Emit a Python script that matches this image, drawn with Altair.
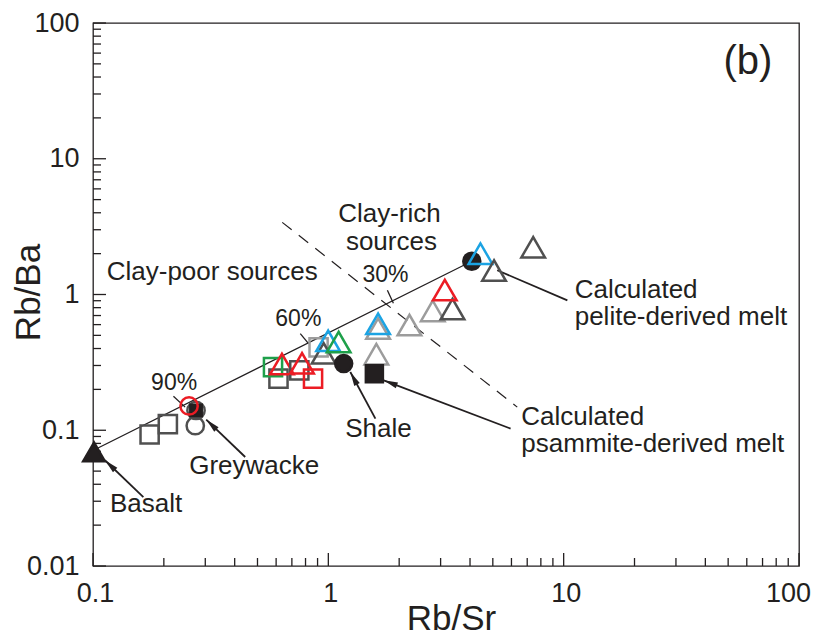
import math
import altair as alt
import pandas as pd

W, H = 706, 543
FONT = "Liberation Sans"
INK = "#231f20"

# ---------------- data ----------------
# sample points (Rb/Sr, Rb/Ba), symbol and colour group, in drawing order
pt_x = [0.274, 0.272, 0.274, 0.256, 0.174, 0.208, 0.614, 0.582, 0.635, 0.753,
        0.773, 0.861, 0.909, 0.955, 0.998, 1.106, 1.162, 1.600, 1.627, 1.627,
        1.569, 2.211, 2.778, 3.370, 3.125, 4.070, 4.430, 5.060, 7.420, 0.101]
pt_y = [0.140, 0.108, 0.140, 0.151, 0.093, 0.111, 0.240, 0.292, 0.307, 0.276,
        0.311, 0.240, 0.408, 0.369, 0.456, 0.446, 0.310, 0.363, 0.561, 0.608,
        0.261, 0.596, 0.756, 0.781, 1.079, 1.757, 2.000, 1.500, 2.227, 0.0692]
pt_symbol = ["circle", "circle", "small square", "circle", "square", "square", "square", "square",
             "triangle", "square", "triangle", "square", "square", "triangle", "triangle",
             "triangle", "circle", "triangle", "triangle", "triangle", "square", "triangle",
             "triangle", "triangle", "triangle", "circle", "triangle", "triangle", "triangle",
             "triangle"]
pt_group = ["dark", "dark", "solid", "red", "dark", "dark", "dark", "green", "red", "dark",
            "red", "red", "light", "dark", "blue", "green", "solid", "light", "light", "blue",
            "solid", "light", "light", "dark", "red", "solid", "blue", "dark", "dark", "solid"]

# mixing line (basalt -> pelite melt) and the clay-rich / clay-poor divide
line_x1 = [0.1, 0.637]
line_y1 = [0.071, 3.40]
line_x2 = [4.07, 6.35]
line_y2 = [1.757, 0.148]
line_kind = ["solid", "dashed"]

# small marks across the mixing line (90 %, 60 %, 30 %)
mt_x1 = [0.2197, 0.760, 1.782]
mt_y1 = [0.178, 0.515, 1.074]
mt_x2 = [0.2463, 0.824, 1.890]
mt_y2 = [0.148, 0.435, 0.861]

# leader lines: tail (label end) -> head (point end)
ar_x1 = [0.1637, 0.4434, 1.585, 5.95, 10.37]
ar_y1 = [0.0322, 0.0635, 0.1218, 0.1028, 0.906]
ar_x2 = [0.1124, 0.3028, 1.240, 1.719, 5.22]
ar_y2 = [0.0601, 0.1198, 0.2686, 0.2333, 1.508]
ar_head = [True, True, True, True, False]

# centred labels
lab_text = ["Clay-poor sources", "Clay-rich", "sources", "Shale", "Greywacke", "Basalt"]
lab_x = [0.321, 1.818, 1.854, 1.632, 0.4843, 0.168]
lab_y = [1.457, 3.90, 2.424, 0.1016, 0.0543, 0.0285]

pct_text = ["90%", "60%", "30%"]
pct_x = [0.2212, 0.7455, 1.748]
pct_y = [0.2218, 0.657, 1.385]

# left-aligned labels
left_text = ["Calculated", "pelite-derived melt", "Calculated", "psammite-derived melt"]
left_x = [11.14, 11.14, 6.607, 6.607]
left_y = [1.074, 0.679, 0.1246, 0.0788]

panel_text = ["(b)"]
panel_x = [60.7]
panel_y = [51.3]

x_major = [0.1, 1, 10, 100]
x_minor = [m * d for d in (0.1, 1, 10) for m in range(2, 10)]
y_major = [0.01, 0.1, 1, 10, 100]
y_minor = [m * d for d in (0.01, 0.1, 1, 10) for m in range(2, 10)]

# ---------------- styles ----------------
COLOR = {"dark": "#505050", "light": "#9c9c9c", "red": "#ec1c24", "blue": "#1ba3e3",
         "green": "#1ea04a", "solid": INK}
SHAPE = {"circle": "circle", "square": "square", "small square": "square", "triangle": "triangle-up"}
SIZE_HOLLOW = {"circle": 300, "square": 330, "small square": 130, "triangle": 560}
SIZE_SOLID = {"circle": 290, "square": 290, "small square": 130, "triangle": 470}

XS = alt.Scale(type="log", domain=[0.1, 100], nice=False)
YS = alt.Scale(type="log", domain=[0.01, 100], nice=False)

XAXIS = alt.Axis(values=x_major, format="~g", ticks=False, tickSize=0, domain=False, grid=False,
                 labelFont=FONT, labelFontSize=27, labelColor=INK, labelPadding=14,
                 labelFlush=False,
                 labelOffset={"condition": {"test": "datum.value >= 100", "value": -11}, "value": 2},
                 title="Rb/Sr", titleFont=FONT, titleFontSize=35, titleFontWeight="normal",
                 titleColor=INK, titleX=358, titleY=52, titleAlign="center", titleBaseline="middle")
YAXIS = alt.Axis(values=y_major, format="~g", ticks=False, tickSize=0, domain=False, grid=False,
                 labelFont=FONT, labelFontSize=27, labelColor=INK, labelPadding=14,
                 labelFlush=False,
                 title="Rb/Ba", titleFont=FONT, titleFontSize=35, titleFontWeight="normal",
                 titleColor=INK, titleX=-65, titleY=269, titleAngle=270,
                 titleAlign="center", titleBaseline="middle")


def X(f="x"):
    return alt.X(f"{f}:Q", scale=XS, axis=XAXIS)


def Y(f="y"):
    return alt.Y(f"{f}:Q", scale=YS, axis=YAXIS)


def px(v):
    return W * (math.log10(v) + 1) / 3


def py(v):
    return H * (2 - math.log10(v)) / 4


# ---------------- tables ----------------
pts = pd.DataFrame({"x": pt_x, "y": pt_y, "symbol": pt_symbol, "group": pt_group})
pts["shape"] = pts["symbol"].map(SHAPE)
pts["stroke"] = pts["group"].map(COLOR)
pts["fill"] = [COLOR[g] if g == "solid" else "transparent" for g in pts["group"]]
pts["size"] = [SIZE_SOLID[s] if g == "solid" else SIZE_HOLLOW[s]
               for s, g in zip(pts["symbol"], pts["group"])]

lines = pd.DataFrame({"x": line_x1, "y": line_y1, "x2": line_x2, "y2": line_y2, "kind": line_kind})
marks = pd.DataFrame({"x": mt_x1, "y": mt_y1, "x2": mt_x2, "y2": mt_y2})
arrows = pd.DataFrame({"x": ar_x1, "y": ar_y1, "x2": ar_x2, "y2": ar_y2, "head": ar_head})
heads = arrows[arrows["head"]].copy()
heads["angle"] = [
    (math.degrees(math.atan2(px(b) - px(a), -(py(d) - py(c)))) + 360) % 360
    for a, c, b, d in zip(heads["x"], heads["y"], heads["x2"], heads["y2"])
]

xt_major = pd.DataFrame({"x": x_major})
xt_minor = pd.DataFrame({"x": x_minor})
yt_major = pd.DataFrame({"y": y_major})
yt_minor = pd.DataFrame({"y": y_minor})

labels = pd.DataFrame({"t": lab_text, "x": lab_x, "y": lab_y})
pcts = pd.DataFrame({"t": pct_text, "x": pct_x, "y": pct_y})
lefts = pd.DataFrame({"t": left_text, "x": left_x, "y": left_y})
panel = pd.DataFrame({"t": panel_text, "x": panel_x, "y": panel_y})

# ---------------- layers ----------------
tick_x_major = alt.Chart(xt_major).mark_rule(color=INK, strokeWidth=1.3).encode(
    x=X(), y=alt.value(H), y2=alt.value(H - 13))
tick_x_minor = alt.Chart(xt_minor).mark_rule(color=INK, strokeWidth=1.3).encode(
    x=X(), y=alt.value(H), y2=alt.value(H - 8))
tick_y_major = alt.Chart(yt_major).mark_rule(color=INK, strokeWidth=1.3).encode(
    y=Y(), x=alt.value(0), x2=alt.value(13))
tick_y_minor = alt.Chart(yt_minor).mark_rule(color=INK, strokeWidth=1.3).encode(
    y=Y(), x=alt.value(0), x2=alt.value(8))

mix_line = alt.Chart(lines[lines["kind"] == "solid"]).mark_rule(color=INK, strokeWidth=1.2).encode(
    x=X(), y=Y(), x2="x2:Q", y2="y2:Q")
dash_line = alt.Chart(lines[lines["kind"] == "dashed"]).mark_rule(
    color=INK, strokeWidth=1.2, strokeDash=[12, 9]).encode(x=X(), y=Y(), x2="x2:Q", y2="y2:Q")
mix_marks = alt.Chart(marks).mark_rule(color=INK, strokeWidth=1.3).encode(
    x=X(), y=Y(), x2="x2:Q", y2="y2:Q")
leaders = alt.Chart(arrows).mark_rule(color=INK, strokeWidth=1.8).encode(
    x=X(), y=Y(), x2="x2:Q", y2="y2:Q")
arrowheads = alt.Chart(heads).mark_point(
    shape="M0,0L0.32,1.45L-0.32,1.45Z", filled=True, size=380, color=INK, opacity=1).encode(
    x=X("x2"), y=Y("y2"), angle=alt.Angle("angle:Q", scale=None))

points = alt.Chart(pts).mark_point(filled=True, opacity=1, strokeWidth=2.5).encode(
    x=X(), y=Y(),
    shape=alt.Shape("shape:N", scale=None),
    stroke=alt.Stroke("stroke:N", scale=None),
    fill=alt.Fill("fill:N", scale=None),
    size=alt.Size("size:Q", scale=None),
)

txt_labels = alt.Chart(labels).mark_text(font=FONT, fontSize=26, color=INK, align="center",
                                          baseline="middle").encode(x=X(), y=Y(), text="t:N")
txt_pcts = alt.Chart(pcts).mark_text(font=FONT, fontSize=23, color=INK, align="center",
                                      baseline="middle").encode(x=X(), y=Y(), text="t:N")
txt_lefts = alt.Chart(lefts).mark_text(font=FONT, fontSize=26, color=INK, align="left",
                                        baseline="middle").encode(x=X(), y=Y(), text="t:N")
txt_panel = alt.Chart(panel).mark_text(font=FONT, fontSize=40, color=INK, align="center",
                                        baseline="middle").encode(x=X(), y=Y(), text="t:N")

chart = alt.layer(
    tick_x_major, tick_x_minor, tick_y_major, tick_y_minor,
    dash_line, mix_line, mix_marks, leaders, arrowheads, points,
    txt_labels, txt_pcts, txt_lefts, txt_panel,
).properties(
    width=W, height=H, autosize=alt.AutoSizeParams(type="none"),
    padding={"left": 85, "top": 15, "right": 12, "bottom": 70},
    background="white",
).configure_view(stroke=INK, strokeWidth=1.3)

chart.save("out.html", embed_options={"renderer": "svg", "actions": False})
